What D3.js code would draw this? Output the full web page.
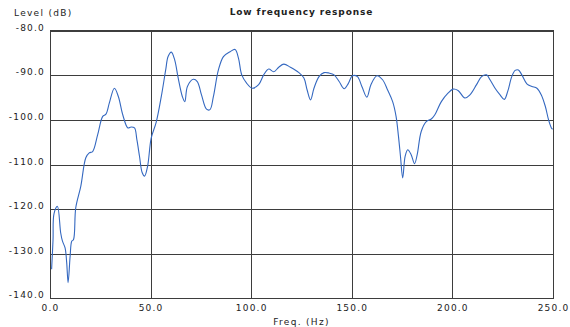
<!DOCTYPE html>
<html>
<head>
<meta charset="utf-8">
<script src="https://cdn.jsdelivr.net/npm/d3@7"></script>
<style>
  html, body { margin: 0; padding: 0; background: #fff; }
  svg { display: block; }
  text { font-family: "DejaVu Sans", Verdana, sans-serif; fill: #222; }
</style>
</head>
<body>
<svg id="chart" width="570" height="327"></svg>
<script>
const title = "Low frequency response";
const xLabel = "Freq. (Hz)";
const yLabel = "Level (dB)";
const xTicks = [0, 50, 100, 150, 200, 250];
const yTicks = [-80, -90, -100, -110, -120, -130, -140];

const freq = [0.8,1.5,2.0,3.7,5.3,6.2,7.5,8.3,9.0,10.0,10.8,11.7,12.8,15.3,17.8,19.5,21.2,23.7,26.2,27.8,29.5,32.0,34.0,36.2,38.7,40.3,42.0,43.2,44.5,45.8,47.0,48.5,50.3,52.8,55.3,57.5,58.7,60.3,62.0,63.7,65.8,67.0,68.3,71.2,73.2,75.3,77.8,79.5,81.2,83.7,86.2,89.5,92.0,93.7,95.3,97.8,100.5,103.7,106.2,108.7,111.2,113.7,116.2,119.5,123.7,126.2,127.8,129.5,131.2,133.7,136.2,138.7,141.2,143.7,146.2,148.3,150.3,152.8,155.0,157.5,159.5,162.5,165.3,167.8,170.3,172.0,173.2,174.2,175.3,176.5,177.8,179.5,181.2,182.5,184.5,187.0,189.5,191.2,194.5,197.8,200.3,202.8,206.2,208.7,212.0,214.5,217.0,218.7,221.2,223.7,225.8,227.5,229.5,231.2,232.8,234.5,237.0,239.5,242.0,244.2,246.2,247.8,249.2,249.8];
const level = [-133.5,-127,-121,-119.4,-125.3,-127.2,-128.7,-132,-136.5,-130.6,-127.2,-126.8,-119.7,-114.9,-108.5,-107.4,-107.1,-103.3,-99.2,-98.7,-96.2,-92.9,-94.8,-98.9,-101.8,-101.6,-101.8,-104.5,-108.2,-111.8,-112.6,-110.4,-104.1,-100.5,-94.8,-88.8,-85.8,-84.8,-86.6,-90.6,-94.8,-95.9,-92.5,-90.9,-91.4,-94.4,-97.6,-97.7,-94.8,-88.8,-85.8,-84.7,-84.2,-86.2,-89.9,-91.8,-92.9,-92.1,-89.9,-88.6,-89.2,-88.2,-87.5,-88.2,-89.4,-90.6,-93.3,-95.5,-92.9,-90.3,-89.4,-89.5,-89.9,-91.4,-93.0,-91.8,-90.1,-90.3,-92.5,-94.9,-92.1,-90.1,-91.0,-93.3,-95.9,-99.2,-103.7,-108.2,-113.0,-108.2,-106.7,-107.8,-109.8,-107.8,-102.6,-100.4,-99.8,-98.9,-95.9,-94.0,-93.1,-93.4,-95.1,-94.4,-92.1,-90.3,-89.9,-91.0,-92.9,-94.4,-95.4,-93.6,-90.3,-88.9,-88.8,-89.9,-91.9,-92.5,-92.9,-94.4,-97.0,-100.0,-101.8,-102.1];

const svg = d3.select("#chart");
const mLeft = 50, mRight = 553, mTop = 30.7, mBottom = 298.3;
const x = d3.scaleLinear().domain([0, 250]).range([mLeft, mRight]);
const y = d3.scaleLinear().domain([-140, -80]).range([mBottom, mTop]);
const fmt = d => d.toFixed(1);
const gridColor = "#3d3d3d";

// horizontal grid + y labels
const gy = svg.append("g").attr("transform", `translate(${mLeft},0)`)
  .call(d3.axisLeft(y).tickValues(yTicks).tickSize(-(mRight - mLeft)).tickFormat(fmt));
gy.select(".domain").remove();
gy.selectAll(".tick line").attr("stroke", gridColor).attr("stroke-width", 1).attr("shape-rendering", "crispEdges");
gy.selectAll(".tick text").attr("x", -5).attr("dy", "-0.05em")
  .attr("font-size", 9).attr("letter-spacing", 1.2).attr("fill", "#222")
  .attr("font-family", "DejaVu Sans, sans-serif");

// vertical grid + x labels
const gx = svg.append("g").attr("transform", `translate(0,${mBottom})`)
  .call(d3.axisBottom(x).tickValues(xTicks).tickSize(-(mBottom - mTop)).tickFormat(fmt));
gx.select(".domain").remove();
gx.selectAll(".tick line").attr("stroke", gridColor).attr("stroke-width", 1).attr("shape-rendering", "crispEdges");
gx.selectAll(".tick text").attr("y", 6).attr("dy", "0.71em")
  .attr("font-size", 9).attr("letter-spacing", 1.2).attr("fill", "#222")
  .attr("font-family", "DejaVu Sans, sans-serif");

// border
svg.append("rect").attr("x", mLeft).attr("y", mTop)
  .attr("width", mRight - mLeft).attr("height", mBottom - mTop)
  .attr("fill", "none").attr("stroke", gridColor).attr("shape-rendering", "crispEdges");

// curve
const pts = freq.map((f, i) => [f, level[i]]);
const line = d3.line().x(d => x(d[0])).y(d => y(d[1])).curve(d3.curveCatmullRom.alpha(0.5));
svg.append("path").datum(pts).attr("d", line)
  .attr("fill", "none").attr("stroke", "#3468c0").attr("stroke-width", 1.1);

// texts
svg.append("text").attr("x", 14).attr("y", 16).attr("font-size", 9).attr("letter-spacing", 1.3).text(yLabel);
svg.append("text").attr("x", (mLeft + mRight) / 2).attr("y", 15).attr("text-anchor", "middle")
  .attr("font-size", 9).attr("font-weight", "bold").attr("letter-spacing", 0.9).text(title);
svg.append("text").attr("x", (mLeft + mRight) / 2).attr("y", 325).attr("text-anchor", "middle")
  .attr("font-size", 9).attr("letter-spacing", 1.3).text(xLabel);
</script>
</body>
</html>
